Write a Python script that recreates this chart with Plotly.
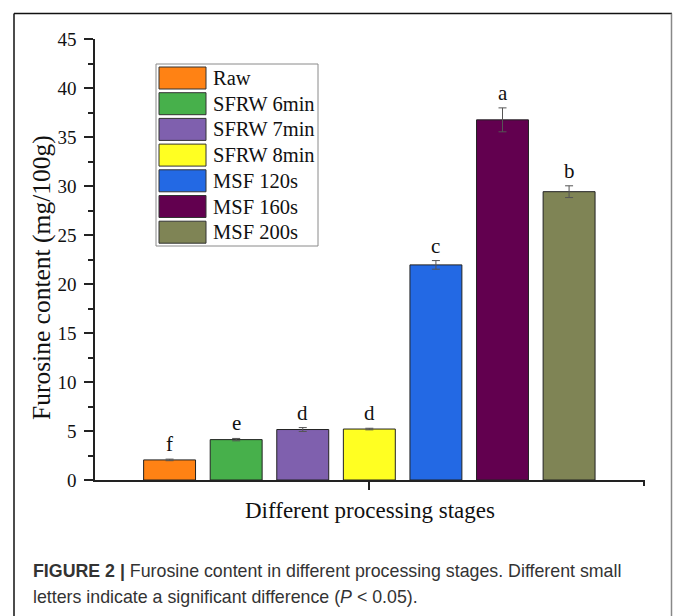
import plotly.graph_objects as go

# ---- data ----
categories = ["Raw", "SFRW 6min", "SFRW 7min", "SFRW 8min", "MSF 120s", "MSF 160s", "MSF 200s"]
values = [2.05, 4.12, 5.15, 5.2, 21.95, 36.75, 29.42]
errors = [0.08, 0.12, 0.2, 0.08, 0.44, 1.22, 0.6]
letters = ["f", "e", "d", "d", "c", "a", "b"]
colors = ["#FF8214", "#47B04B", "#7F60AE", "#FFFF22", "#2369E4", "#62004F", "#7F8455"]
y_ticks = [0, 5, 10, 15, 20, 25, 30, 35, 40, 45]
x_title = "Different processing stages"
y_title = "Furosine content (mg/100g)"
caption1 = "<b>FIGURE 2 |</b> Furosine content in different processing stages. Different small"
caption2 = "letters indicate a significant difference (<i>P</i> &lt; 0.05)."

# ---- layout constants (pixels) ----
W, H = 673, 616
L, R, T, B = 95, 28, 39, 136
PW = W - L - R
PH = H - T - B
SERIF = "Liberation Serif, Times New Roman, serif"
SANS = "Liberation Sans, Arial, sans-serif"


def px_x(p):
    return (p - L) / PW


def px_y(p):
    return (T + PH - p) / PH


fig = go.Figure()
for i, (cat, v, e, c) in enumerate(zip(categories, values, errors, colors)):
    fig.add_trace(go.Bar(
        x=[i], y=[v], name=cat, width=0.78,
        marker=dict(color=c, line=dict(color="#222222", width=1)),
        error_y=dict(type="data", array=[e], color="#555555", thickness=1, width=4),
        showlegend=False,
    ))

annotations = []
# significance letters
for i, (v, e, t) in enumerate(zip(values, errors, letters)):
    annotations.append(dict(x=i, y=v + e, xref="x", yref="y", text=t, showarrow=False,
                            yanchor="bottom", yshift=1,
                            font=dict(family=SERIF, size=21, color="#111")))

shapes = []
# legend (manual, large swatches)
shapes.append(dict(type="rect", xref="paper", yref="paper",
                   x0=px_x(156), x1=px_x(318), y0=px_y(246), y1=px_y(64),
                   line=dict(color="#8a8a8a", width=1), fillcolor="white", layer="above"))
for i, (cat, c) in enumerate(zip(categories, colors)):
    top = 67 + 25.7 * i
    shapes.append(dict(type="rect", xref="paper", yref="paper",
                       x0=px_x(159), x1=px_x(206), y0=px_y(top + 22), y1=px_y(top),
                       line=dict(color="#333333", width=1), fillcolor=c, layer="above"))
    annotations.append(dict(x=px_x(211), y=px_y(top + 11), xref="paper", yref="paper",
                            text=cat, showarrow=False, xanchor="left", yanchor="middle",
                            font=dict(family=SERIF, size=20.5, color="#111")))

# outer figure frame
shapes.append(dict(type="line", xref="paper", yref="paper",
                   x0=px_x(14), x1=px_x(14), y0=px_y(640), y1=px_y(13.5),
                   line=dict(color="#111", width=1.5)))
shapes.append(dict(type="line", xref="paper", yref="paper",
                   x0=px_x(14), x1=px_x(672), y0=px_y(13.5), y1=px_y(13.5),
                   line=dict(color="#111", width=1.5)))
shapes.append(dict(type="line", xref="paper", yref="paper",
                   x0=px_x(671.5), x1=px_x(671.5), y0=px_y(640), y1=px_y(13.5),
                   line=dict(color="#888", width=1.5)))

# axis titles
annotations.append(dict(x=px_x(41), y=px_y(278), xref="paper", yref="paper", text=y_title,
                        showarrow=False, textangle=-90, xanchor="center", yanchor="middle",
                        font=dict(family=SERIF, size=25.5, color="#111")))
annotations.append(dict(x=px_x(370), y=px_y(510), xref="paper", yref="paper", text=x_title,
                        showarrow=False, xanchor="center", yanchor="middle",
                        font=dict(family=SERIF, size=23, color="#111")))
# caption
annotations.append(dict(x=px_x(31), y=px_y(571), xref="paper", yref="paper", text=caption1,
                        showarrow=False, xanchor="left", yanchor="middle",
                        font=dict(family=SANS, size=17.8, color="#333")))
annotations.append(dict(x=px_x(31), y=px_y(597), xref="paper", yref="paper", text=caption2,
                        showarrow=False, xanchor="left", yanchor="middle",
                        font=dict(family=SANS, size=17.8, color="#333")))

fig.update_layout(
    width=W, height=H, autosize=False,
    margin=dict(l=L, r=R, t=T, b=B, pad=0),
    paper_bgcolor="white", plot_bgcolor="white",
    barmode="overlay",
    showlegend=False,
    annotations=annotations,
    shapes=shapes,
    xaxis=dict(range=[-1.12, 7.14], tickvals=[3], ticktext=[""], ticks="outside",
               ticklen=8, tickwidth=1.5, tickcolor="#222",
               showline=True, linecolor="#222", linewidth=1.5,
               showgrid=False, zeroline=False,
               minor=dict(tickvals=[7.13], ticks="outside", ticklen=4, tickwidth=1.5,
                          tickcolor="#222", showgrid=False)),
    yaxis=dict(range=[0, 45], tickvals=y_ticks, ticks="outside", ticklen=9, tickwidth=1.5,
               tickcolor="#222", showline=True, linecolor="#222", linewidth=1.5,
               showgrid=False, zeroline=False, ticklabelstandoff=4,
               tickfont=dict(family=SERIF, size=19, color="#111"),
               minor=dict(dtick=2.5, ticks="outside", ticklen=5, tickwidth=1.5,
                          tickcolor="#222", showgrid=False)),
)

fig.write_html("out.html", config={"displayModeBar": False},
               post_script="document.body.style.margin='0';document.body.style.overflow='hidden';")
